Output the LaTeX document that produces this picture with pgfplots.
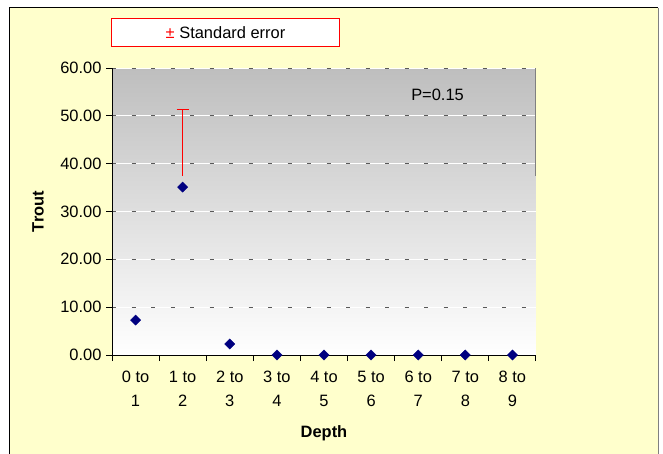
\documentclass[border=0pt]{standalone}
\usepackage{pgfplots}
\pgfplotsset{compat=1.18}
\usepackage{fontspec}
\setmainfont{Liberation Sans}
\definecolor{bgyellow}{HTML}{FFFFCC}
\definecolor{topgray}{HTML}{BEBEBE}
\definecolor{navy}{HTML}{000080}
\begin{document}
\begin{tikzpicture}
\useasboundingbox (0bp,0bp) rectangle (663bp,454bp);
\fill[white] (0bp,0bp) rectangle (663bp,454bp);
\fill[bgyellow] (9bp,-2bp) rectangle (658bp,446bp);
\draw[black, line width=1bp] (9bp,-2bp) -- (9bp,446bp) -- (658bp,446bp);
\draw[gray, line width=1bp] (658bp,446bp) -- (658bp,-2bp);
\begin{axis}[at={(112bp,99bp)}, anchor=south west, scale only axis,
  width=424bp, height=287bp,
  xmin=-0.5, xmax=8.5, ymin=0, ymax=60,
  axis lines=left, axis line style={-, black, line width=1bp},
  axis background/.style={top color=topgray, bottom color=white},
  clip=false,
  /pgf/number format/assume math mode=true,
  ytick={0,10,...,60},
  yticklabel={\pgfmathprintnumber[fixed,fixed zerofill,precision=2]{\tick}},
  xtick={0,...,8},
  xticklabels={{0 to\\1},{1 to\\2},{2 to\\3},{3 to\\4},{4 to\\5},{5 to\\6},{6 to\\7},{7 to\\8},{8 to\\9}},
  minor xtick={-0.5,0.5,...,8.5},
  major x tick style={draw=none},
  tick style={black, line width=1bp},
  major tick length=6bp, minor tick length=6bp,
  tick align=outside,
  xticklabel style={align=center, font=\fontsize{16.5}{24}\selectfont, yshift=-7bp},
  yticklabel style={font=\fontsize{16.5}{19}\selectfont, xshift=-1bp},
  ymajorgrids,
  major grid style={draw=white, line width=1bp, postaction={draw=black!65, dash pattern=on 4bp off 15.5bp}},
  xlabel={\textbf{Depth}}, ylabel={\textbf{Trout}},
  xlabel style={at={(axis description cs:0.5,-0.272)}, anchor=center, font=\fontsize{16.5}{19}\selectfont},
  ylabel style={at={(axis description cs:-0.1745,0.5)}, anchor=center, font=\fontsize{16.5}{19}\selectfont},
]
\draw[gray, line width=1bp] (axis cs:8.5,60) -- (axis cs:8.5,37.5);
\addplot[red, line width=1.2bp, mark=none, forget plot,
  error bars/.cd, y dir=plus, y explicit,
  error bar style={red, line width=1.2bp},
  error mark options={red, line width=1.2bp, mark size=6bp, rotate=90}]
  coordinates {(1,37.5) +- (0,13.8)};
\draw[red, line width=1.6bp] (axis cs:0.88,51.3) -- (axis cs:1.12,51.3);
\addplot[only marks, mark=square*, mark size=3.6bp,
  mark options={rotate=45, fill=navy, draw=navy}]
  coordinates {(0,7.3) (1,35.1) (2,2.3) (3,0) (4,0) (5,0) (6,0) (7,0) (8,0)};
\node[font=\fontsize{16.5}{19}\selectfont] at (axis cs:6.41,54.3) {P=0.15};
\end{axis}
\node[draw=red, line width=1.6bp, fill=white, minimum width=228bp, minimum height=28bp, inner sep=0pt, font=\fontsize{16.5}{19}\selectfont] at (225.5bp,421.5bp) {\textcolor{red}{±} Standard error};
\end{tikzpicture}
\end{document}
